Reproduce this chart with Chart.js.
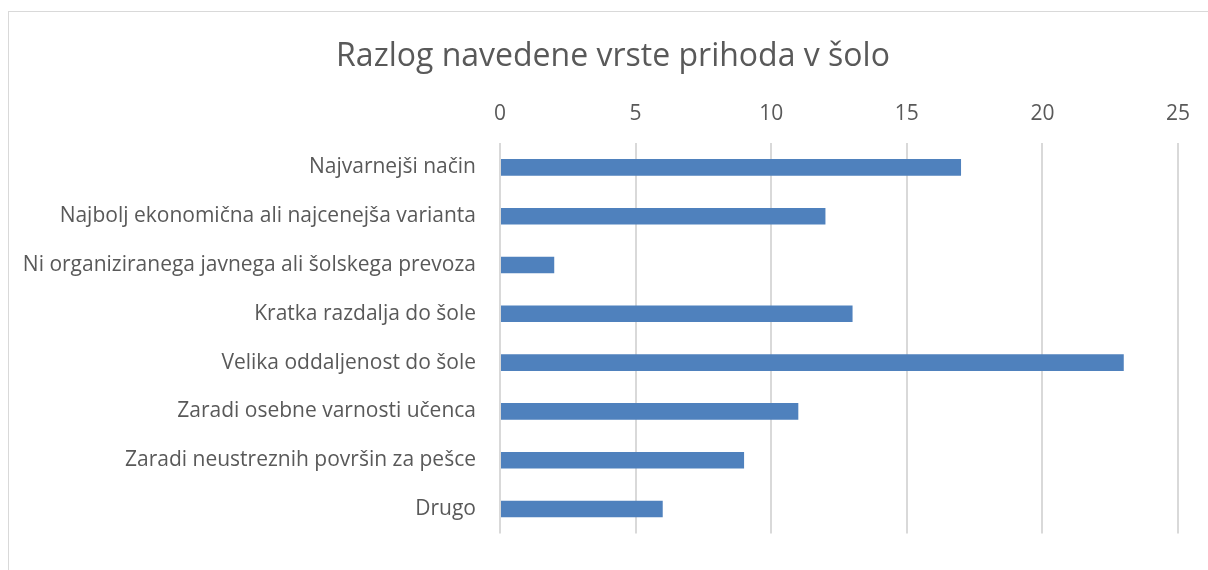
<!DOCTYPE html>
<html>
<head>
<meta charset="utf-8">
<script src="https://cdn.jsdelivr.net/npm/chart.js@4/dist/chart.umd.min.js"></script>
<style>
  html, body { margin: 0; padding: 0; background: #fff; overflow: hidden; }
  #wrap { position: relative; width: 1208px; height: 570px; }
  #frame { position: absolute; left: 8px; top: 11px; width: 1300px; height: 700px; border: 1px solid #d9d9d9; }
  canvas { position: absolute; left: 0; top: 0; }
</style>
</head>
<body>
<div id="wrap">
  <div id="frame"></div>
  <canvas id="chart" width="1208" height="570"></canvas>
</div>
<script>
const categories = [
  'Najvarnejši način',
  'Najbolj ekonomična ali najcenejša varianta',
  'Ni organiziranega javnega ali šolskega prevoza',
  'Kratka razdalja do šole',
  'Velika oddaljenost do šole',
  'Zaradi osebne varnosti učenca',
  'Zaradi neustreznih površin za pešce',
  'Drugo'
]
const counts = [17, 12, 2, 13, 23, 11, 9, 6]
const xTicks = [0, 5, 10, 15, 20, 25]
const chartTitle = 'Razlog navedene vrste prihoda v šolo'

const textColor = '#595959'
const gridColor = '#d9d9d9'
const fontFamily = "'Open Sans', 'Liberation Sans', sans-serif"

// the original title sits a bit right of the canvas centre
const shiftTitle = {
  id: 'shiftTitle',
  afterLayout(chart) {
    if (chart.titleBlock) chart.titleBlock.left += 40
  }
}

const ctx = document.getElementById('chart').getContext('2d')
new Chart(ctx, {
  type: 'bar',
  data: {
    labels: categories,
    datasets: [{
      data: counts,
      backgroundColor: '#4f81bd',
      borderWidth: 0,
      categoryPercentage: 1,
      barPercentage: 0.34
    }]
  },
  options: {
    indexAxis: 'y',
    responsive: false,
    animation: false,
    layout: { padding: { left: 8, right: 30, top: 0, bottom: 25 } },
    plugins: {
      legend: { display: false },
      tooltip: { enabled: false },
      title: {
        display: true,
        text: chartTitle,
        color: textColor,
        font: { family: fontFamily, size: 32, weight: 'normal' },
        padding: { top: 38, bottom: 0 }
      }
    },
    scales: {
      x: {
        position: 'top',
        min: 0,
        max: 25,
        afterBuildTicks: function(scale) {
          scale.ticks = xTicks.map(v => ({ value: v }))
        },
        afterFit: function(scale) { scale.height = 66.6 },
        grid: { color: gridColor, lineWidth: 2, drawTicks: false },
        border: { display: false },
        ticks: {
          color: textColor,
          padding: 16,
          font: { family: fontFamily, size: 21 }
        }
      },
      y: {
        afterFit: function(scale) { scale.width = 492 },
        grid: { display: false, drawTicks: false },
        border: { display: false },
        ticks: {
          color: textColor,
          padding: 24,
          font: { family: fontFamily, size: 21 }
        }
      }
    }
  },
  plugins: [shiftTitle]
})
</script>
</body>
</html>
